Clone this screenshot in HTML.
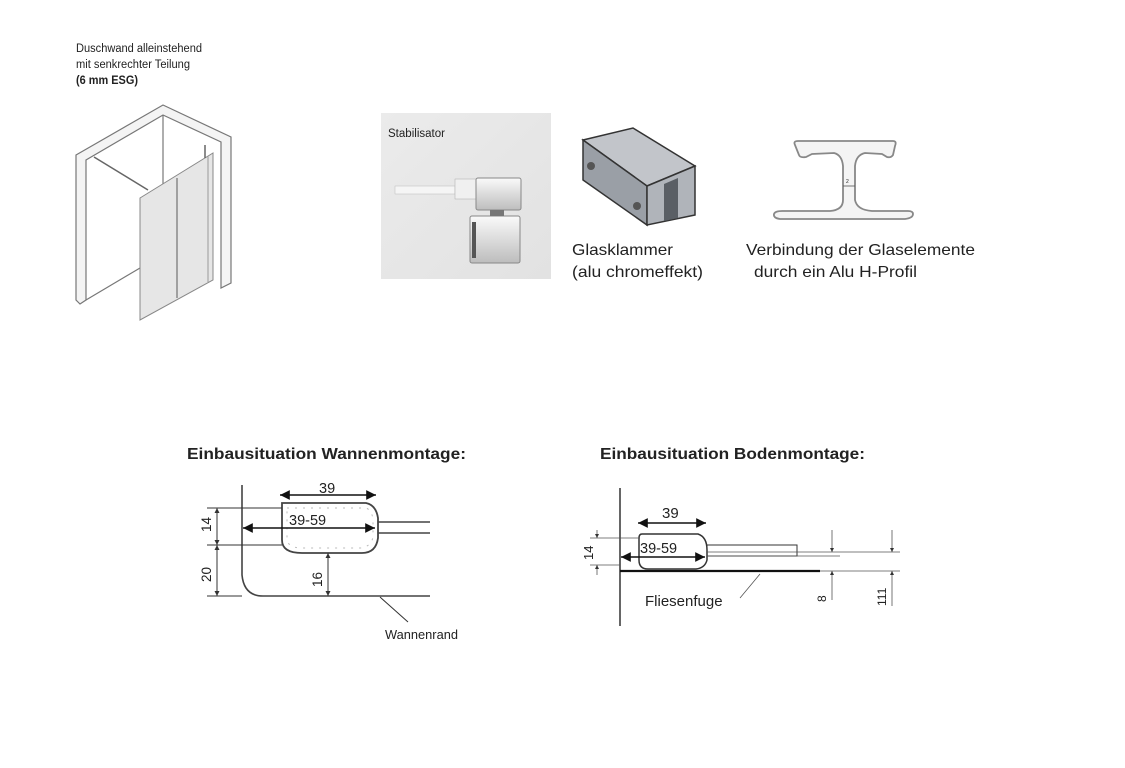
<!DOCTYPE html>
<html><head><meta charset="utf-8"><style>
html,body{margin:0;padding:0;background:#fff;}
svg{display:block;}
text{font-family:"Liberation Sans",sans-serif;fill:#222;}
</style></head><body>
<svg width="1125" height="768" viewBox="0 0 1125 768" xmlns="http://www.w3.org/2000/svg">
<defs>
<marker id="a" viewBox="0 0 10 10" refX="10" refY="5" markerWidth="9" markerHeight="7" orient="auto-start-reverse"><path d="M0,0L10,5L0,10z" fill="#111"/></marker>
<marker id="s" viewBox="0 0 10 10" refX="10" refY="5" markerWidth="5" markerHeight="5" orient="auto-start-reverse"><path d="M0,0L10,5L0,10z" fill="#333"/></marker>
<linearGradient id="bg" x1="0" y1="0" x2="1" y2="1"><stop offset="0" stop-color="#ebebeb"/><stop offset="1" stop-color="#e2e2e2"/></linearGradient>
<linearGradient id="met" x1="0" y1="0" x2="0" y2="1"><stop offset="0" stop-color="#fafafa"/><stop offset="1" stop-color="#bdbdbd"/></linearGradient>
</defs>

<text x="76" y="52" font-size="11.5" textLength="126" lengthAdjust="spacingAndGlyphs">Duschwand alleinstehend</text>
<text x="76" y="68" font-size="11.5" textLength="114" lengthAdjust="spacingAndGlyphs">mit senkrechter Teilung</text>
<text x="76" y="84" font-size="11.5" font-weight="bold" textLength="62" lengthAdjust="spacingAndGlyphs">(6 mm ESG)</text>

<g fill="none" stroke="#777" stroke-width="1.2">
<path d="M76,155 L163,105 L231,137 L231,283 L221,288 L221,142 L163,115 L86,160 L86,300 L80,304 L76,300 Z" fill="#f4f4f4"/>
<line x1="163" y1="115" x2="163" y2="215"/>
<line x1="86" y1="300" x2="140" y2="268"/>
</g>
<path d="M140,198 L213,153 L213,280 L140,320 Z" fill="#e6e6e6" stroke="#888" stroke-width="1"/>
<line x1="177" y1="178" x2="177" y2="298" stroke="#888" stroke-width="1.5"/>
<line x1="208" y1="156" x2="208" y2="282" stroke="#999" stroke-width="1"/>
<line x1="94" y1="157" x2="148" y2="190" stroke="#666" stroke-width="1.5"/>
<line x1="205" y1="145" x2="205" y2="158" stroke="#666" stroke-width="1.5"/>

<rect x="381" y="113" width="170" height="166" fill="url(#bg)"/>
<text x="388" y="137" font-size="11.5" textLength="57" lengthAdjust="spacingAndGlyphs">Stabilisator</text>
<rect x="395" y="186" width="60" height="8" fill="#f5f5f5" stroke="#bbb" stroke-width="0.5"/>
<rect x="455" y="179" width="22" height="20" fill="#f0f0f0" stroke="#aaa" stroke-width="0.5"/>
<rect x="476" y="178" width="45" height="32" rx="2" fill="url(#met)" stroke="#888"/>
<rect x="470" y="216" width="50" height="47" rx="2" fill="url(#met)" stroke="#888"/>
<rect x="472" y="222" width="4" height="36" fill="#555"/>
<rect x="490" y="210" width="14" height="6" fill="#777"/>

<path d="M583,140 L633,128 L695,166 L647,186 Z" fill="#c2c5ca" stroke="#333" stroke-width="1.5"/>
<path d="M583,140 L647,186 L647,225 L583,180 Z" fill="#9a9fa6" stroke="#333" stroke-width="1.5"/>
<path d="M647,186 L695,166 L695,215 L647,225 Z" fill="#b0b4ba" stroke="#333" stroke-width="1.5"/>
<path d="M664,184 L678,178 L678,218 L664,221 Z" fill="#5a5f65"/>
<circle cx="591" cy="166" r="4" fill="#555"/>
<circle cx="637" cy="206" r="4" fill="#555"/>
<text x="572" y="255" font-size="16" textLength="101" lengthAdjust="spacingAndGlyphs">Glasklammer</text>
<text x="572" y="277" font-size="16" textLength="131" lengthAdjust="spacingAndGlyphs">(alu chromeffekt)</text>

<path d="M795,145 Q793,141 798,141 L893,141 Q897,141 895,146 L893,155 Q891,158 887,157 L882,154 L865,153 Q856,155 855,166 L855,200 Q857,210 872,211 L908,211 Q913,211 913,214 Q913,218 905,219 L780,219 Q773,218 774,214 Q775,211 782,211 L830,211 Q843,210 843,200 L843,166 Q842,155 834,153 L812,154 L806,157 Q800,158 799,155 Z" fill="#f4f4f4" stroke="#888" stroke-width="1.8"/>
<line x1="843" y1="186" x2="855" y2="186" stroke="#555" stroke-width="0.8"/>
<text x="846" y="183" font-size="5">2</text>
<text x="746" y="255" font-size="16" textLength="229" lengthAdjust="spacingAndGlyphs">Verbindung der Glaselemente</text>
<text x="754" y="277" font-size="16" textLength="163" lengthAdjust="spacingAndGlyphs">durch ein Alu H-Profil</text>

<text x="187" y="459" font-size="15.5" font-weight="bold" textLength="279" lengthAdjust="spacingAndGlyphs">Einbausituation Wannenmontage:</text>
<text x="600" y="459" font-size="15.5" font-weight="bold" textLength="265" lengthAdjust="spacingAndGlyphs">Einbausituation Bodenmontage:</text>

<g fill="none" stroke="#444" stroke-width="1.6">
<path d="M242,485 L242,575 Q244,596 263,596 L430,596"/>
<path d="M282,503 L366,503 Q376,505 378,518 L378,538 Q376,553 362,553 L302,553 Q282,553 282,540 Z" stroke-width="1.8"/>
<line x1="378" y1="522" x2="430" y2="522"/>
<line x1="378" y1="533" x2="430" y2="533"/>
</g>
<path d="M287,508 L366,508 Q372,510 373,520 L373,537 Q371,547 360,548 L302,548 Q287,548 287,538 Z" fill="none" stroke="#bbb" stroke-dasharray="2,6"/>
<g stroke="#333" stroke-width="1">
<line x1="207" y1="508" x2="282" y2="508"/>
<line x1="207" y1="545" x2="282" y2="545"/>
<line x1="207" y1="596" x2="242" y2="596"/>
<line x1="217" y1="508" x2="217" y2="545" marker-start="url(#s)" marker-end="url(#s)"/>
<line x1="217" y1="545" x2="217" y2="596" marker-start="url(#s)" marker-end="url(#s)"/>
<line x1="328" y1="553" x2="328" y2="596" marker-start="url(#s)" marker-end="url(#s)"/>
<line x1="380" y1="597" x2="408" y2="622"/>
</g>
<g stroke="#111" stroke-width="1.4">
<line x1="280" y1="495" x2="376" y2="495" marker-start="url(#a)" marker-end="url(#a)"/>
<line x1="243" y1="528" x2="375" y2="528" marker-start="url(#a)" marker-end="url(#a)"/>
</g>
<text x="319" y="493" font-size="14.5">39</text>
<text x="289" y="525" font-size="14.5">39-59</text>
<text transform="translate(211,532) rotate(-90)" font-size="13.5">14</text>
<text transform="translate(211,582) rotate(-90)" font-size="13.5">20</text>
<text transform="translate(322,587) rotate(-90)" font-size="13.5">16</text>
<text x="385" y="639" font-size="13" textLength="73" lengthAdjust="spacingAndGlyphs">Wannenrand</text>

<g fill="none" stroke="#333" stroke-width="1.5">
<line x1="620" y1="488" x2="620" y2="626"/>
<path d="M642,534 L698,534 Q707,537 707,550 L707,560 Q705,568 696,569 L648,569 Q639,569 639,560 L639,538 Q639,534 642,534 Z"/>
<rect x="707" y="545" width="90" height="11" stroke-width="1"/>
</g>
<line x1="620" y1="571" x2="820" y2="571" stroke="#111" stroke-width="2.2"/>
<g stroke="#555" stroke-width="0.8">
<line x1="590" y1="538" x2="640" y2="538"/>
<line x1="590" y1="565" x2="620" y2="565"/>
<line x1="707" y1="552" x2="900" y2="552"/>
<line x1="707" y1="556" x2="840" y2="556"/>
<line x1="820" y1="571" x2="900" y2="571"/>
<line x1="597" y1="530" x2="597" y2="538" marker-end="url(#s)"/>
<line x1="597" y1="575" x2="597" y2="565" marker-end="url(#s)"/>
<line x1="832" y1="530" x2="832" y2="552" marker-end="url(#s)"/>
<line x1="832" y1="600" x2="832" y2="571" marker-end="url(#s)"/>
<line x1="892" y1="530" x2="892" y2="552" marker-end="url(#s)"/>
<line x1="892" y1="606" x2="892" y2="571" marker-end="url(#s)"/>
<line x1="760" y1="574" x2="740" y2="598"/>
</g>
<g stroke="#111" stroke-width="1.4">
<line x1="638" y1="523" x2="706" y2="523" marker-start="url(#a)" marker-end="url(#a)"/>
<line x1="621" y1="557" x2="705" y2="557" marker-start="url(#a)" marker-end="url(#a)"/>
</g>
<text x="662" y="518" font-size="15">39</text>
<text x="640" y="553" font-size="14.5">39-59</text>
<text transform="translate(593,560) rotate(-90)" font-size="13">14</text>
<text transform="translate(826,602) rotate(-90)" font-size="12">8</text>
<text transform="translate(886,606) rotate(-90)" font-size="12">111</text>
<text x="645" y="606" font-size="15">Fliesenfuge</text>
</svg>
</body></html>
